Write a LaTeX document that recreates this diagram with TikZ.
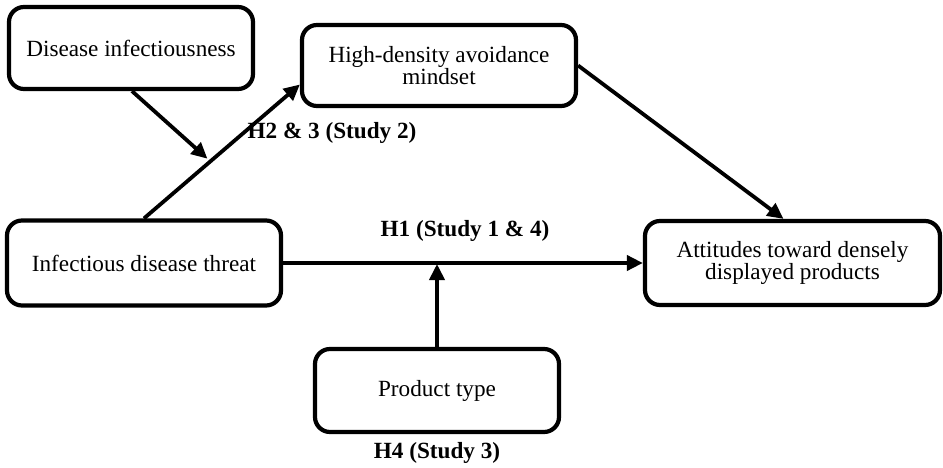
\documentclass[tikz,border=0pt]{standalone}
\usepackage{fontspec}
\setmainfont{Liberation Serif}
\usetikzlibrary{arrows.meta,calc}
\begin{document}
\begin{tikzpicture}[x=1pt,y=-1pt,
  box/.style={draw=black,line width=4.2pt,rounded corners=15pt,align=center,
    font=\fontsize{23.2}{22}\selectfont,inner sep=0pt},
  arr/.style={line width=3.8pt,-{Triangle[length=16pt,width=15pt]}},
  lbl/.style={font=\fontsize{23.2}{22}\selectfont\bfseries,inner sep=0pt}]
\useasboundingbox (0,0) rectangle (943,468);
\node[box,minimum width=244pt,minimum height=82pt] (di) at (131,48) {Disease infectiousness};
\node[box,minimum width=274pt,minimum height=81pt] (hd) at (439,65.5) {High-density avoidance\\mindset};
\node[box,minimum width=274pt,minimum height=85pt] (th) at (144,263) {Infectious disease threat};
\node[box,minimum width=295pt,minimum height=84pt] (at) at (792.5,263) {Attitudes toward densely\\displayed products};
\node[box,minimum width=244pt,minimum height=83pt] (pt) at (437,390.5) {Product type};
% main paths
\draw[arr] (th.north) -- coordinate[pos=0.426] (mid) ([yshift=-19pt]hd.west);
\draw[arr,shorten >=4pt] ([xshift=1pt]di.south) -- (mid);
\draw[arr] (th.east) -- (at.west);
\draw[arr,shorten >=1pt] (pt.north) -- (pt.north |- th.east);
\draw[arr] (hd.east) -- ([xshift=-9pt]at.north);
% labels
\node[lbl] (l1) at (332,133) {H2 \& 3 (Study 2)};
\node[lbl] (l2) at (465,231) {H1 (Study 1 \& 4)};
\node[lbl] (l3) at (437,453) {H4 (Study 3)};
\end{tikzpicture}
\end{document}
